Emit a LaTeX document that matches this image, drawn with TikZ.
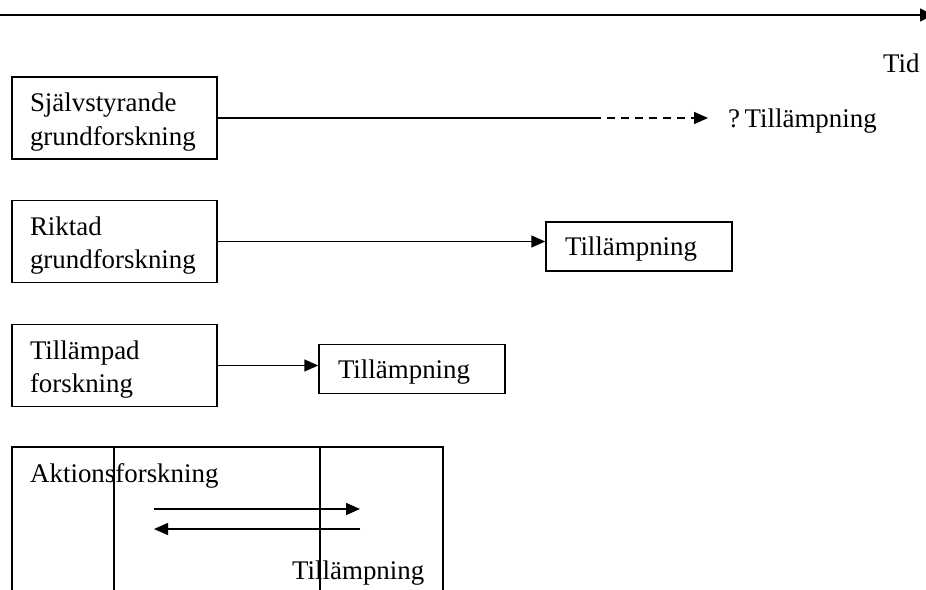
\documentclass[tikz,border=0pt]{standalone}
\usepackage{fontspec}
\setmainfont{Liberation Serif}
\usetikzlibrary{arrows.meta}
\begin{document}
\begin{tikzpicture}[x=1pt,y=-1pt,
  every node/.style={font=\fontsize{26.9}{33.5}\selectfont},
  stage/.style={draw, line width=1.5pt, text width=169pt, inner xsep=18pt,
    inner ysep=0pt, minimum height=82pt, align=left,
    execute at begin node={\rule{0pt}{27pt}}},
  result/.style={draw, line width=1.5pt, text width=148pt, inner xsep=19pt,
    inner ysep=0pt, minimum height=49pt, align=left,
    execute at begin node={\rule{0pt}{24pt}}},
  label/.style={anchor=west, inner sep=0pt},
  plain/.style={line width=1.5pt},
  link/.style={line width=1.5pt, -{Triangle[length=14pt,width=12pt]}}]
\useasboundingbox (0,0) rectangle (926,589);

% time axis
\coordinate (t0) at (0,15);
\coordinate (t1) at (933,15);
\draw[line width=1.5pt, -{Triangle[length=13pt,width=13pt]}] (t0) -- (t1);
\node[label] (tid) at (883,63) {Tid};

% self-governed basic research
\node[stage] (s1) at (114.5,118) {Självstyrande\\grundforskning};
\node[label] (q1) at (728,121) {?\,Tillämpning};
\coordinate (d0) at (593,118);
\draw[plain] (s1.east) -- (d0);
\draw[link, dash pattern=on 8pt off 6pt, shorten >=20pt] (d0) -- (d0 -| q1.west);

% directed basic research
\node[stage] (s2) at (114.5,241.5) {Riktad\\grundforskning};
\node[result] (r2) at (639,246.5) {Tillämpning};
\draw[link] (s2.east) -- (s2.east -| r2.west);

% applied research
\node[stage] (s3) at (114.5,365.5) {Tillämpad\\forskning};
\node[result] (r3) at (412,369) {Tillämpning};
\draw[link] (s3.east) -- (s3.east -| r3.west);

% action research
\node[label] (akt) at (30,476) {Aktionsforskning};
\node[label] (r4) at (292,573) {Tillämpning};
\draw[plain] (12,595) -- (12,447) -- (443,447) -- (443,595);
\draw[plain] (114,447) -- (114,595);
\draw[plain] (320,447) -- (320,595);
\coordinate (a0) at (154,509);
\coordinate (a1) at (360,509);
\coordinate (b0) at (360,529);
\coordinate (b1) at (154,529);
\draw[link] (a0) -- (a1);
\draw[link] (b0) -- (b1);
\end{tikzpicture}
\end{document}
